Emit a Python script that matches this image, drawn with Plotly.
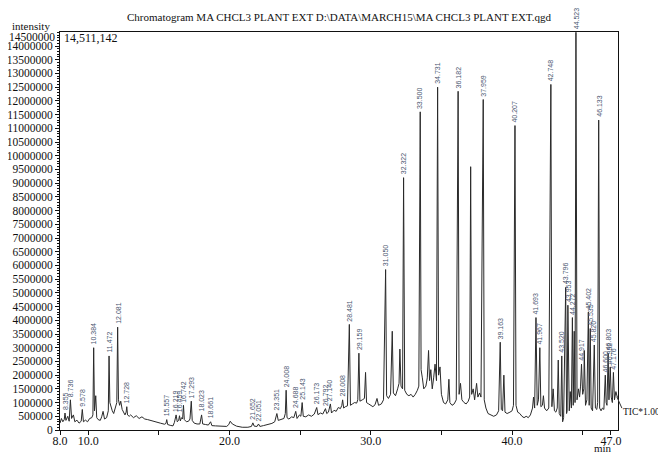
import plotly.graph_objects as go

SCALE = 1e6  # intensities below are in millions of counts
Y_MAX = 14511142

# (retention time [min], intensity [million counts])
seg_a = [(8.0, 0.25), (8.1, 0.42), (8.2, 0.3), (8.3, 0.38), (8.355, 0.62), (8.42, 0.35),
         (8.55, 0.5), (8.65, 0.32), (8.736, 1.1), (8.82, 0.42), (8.95, 0.55), (9.05, 0.3),
         (9.2, 0.36), (9.35, 0.25), (9.5, 0.32), (9.578, 0.75), (9.66, 0.3), (9.8, 0.36),
         (9.95, 0.3), (10.1, 0.42), (10.25, 0.45), (10.33, 0.55), (10.384, 3.0), (10.44, 0.7),
         (10.53, 1.25), (10.6, 0.45), (10.7, 0.38), (10.85, 0.35), (10.95, 0.48), (11.05, 0.68),
         (11.15, 0.4), (11.3, 0.45), (11.42, 0.7), (11.472, 2.7), (11.53, 1.0), (11.6, 0.85),
         (11.7, 0.7), (11.8, 0.6), (11.9, 0.78), (12.02, 1.0), (12.081, 3.75), (12.14, 1.1),
         (12.22, 0.9), (12.3, 1.05), (12.4, 0.75), (12.5, 0.65), (12.6, 0.55), (12.68, 0.65),
         (12.728, 0.85), (12.78, 0.55), (12.9, 0.5), (13.0, 0.55)]

seg_b = [(13.2, 0.45), (13.4, 0.52), (13.6, 0.42), (13.8, 0.48), (14.0, 0.4), (14.2, 0.38),
         (14.5, 0.33), (14.8, 0.3), (15.1, 0.25), (15.4, 0.21), (15.5, 0.24), (15.557, 0.38),
         (15.62, 0.2), (15.8, 0.17), (16.0, 0.15), (16.1, 0.28), (16.219, 0.55), (16.3, 0.3),
         (16.4, 0.35), (16.459, 0.52), (16.52, 0.33), (16.6, 0.45), (16.68, 0.4), (16.742, 0.9),
         (16.8, 0.38), (16.95, 0.3), (17.1, 0.32), (17.2, 0.4), (17.293, 1.05), (17.36, 0.35),
         (17.5, 0.25), (17.7, 0.22), (17.9, 0.22), (18.023, 0.55), (18.1, 0.22), (18.3, 0.2),
         (18.5, 0.18), (18.661, 0.3), (18.75, 0.16), (19.0, 0.15), (19.4, 0.13), (19.8, 0.13),
         (19.95, 0.2), (20.05, 0.32), (20.2, 0.22), (20.5, 0.14), (20.9, 0.1), (21.3, 0.1),
         (21.55, 0.13), (21.652, 0.26), (21.75, 0.14), (21.95, 0.13), (22.051, 0.22), (22.15, 0.13)]

seg_c = [(22.4, 0.16), (22.7, 0.2), (23.0, 0.24), (23.2, 0.3), (23.351, 0.6), (23.45, 0.35),
         (23.65, 0.38), (23.85, 0.42), (23.95, 0.6), (24.008, 1.45), (24.07, 0.45), (24.2, 0.4),
         (24.4, 0.48), (24.55, 0.45), (24.688, 0.68), (24.78, 0.42), (24.95, 0.55), (25.05, 0.5),
         (25.143, 1.0), (25.22, 0.5), (25.4, 0.48), (25.6, 0.55), (25.8, 0.5), (26.0, 0.58),
         (26.173, 0.82), (26.26, 0.56), (26.45, 0.62), (26.6, 0.58), (26.792, 0.78), (26.88, 0.6),
         (27.0, 0.65), (27.14, 0.95), (27.22, 0.62), (27.4, 0.72), (27.55, 0.68), (27.7, 0.82),
         (27.85, 0.78), (27.95, 0.9), (28.008, 1.1), (28.08, 0.8), (28.2, 0.85), (28.35, 0.88),
         (28.481, 3.85), (28.56, 0.9), (28.7, 0.95), (28.85, 1.0), (29.0, 0.98), (29.08, 1.1),
         (29.159, 2.8), (29.23, 1.05), (29.4, 1.1), (29.55, 1.15), (29.63, 2.1), (29.7, 1.0),
         (29.85, 0.95), (30.0, 0.9), (30.15, 0.85), (30.3, 0.92), (30.44, 1.15), (30.55, 0.9),
         (30.75, 0.95), (30.9, 1.1)]

seg_d = [(31.05, 5.85), (31.12, 1.25), (31.25, 1.15), (31.4, 1.3), (31.52, 3.6), (31.6, 1.35),
         (31.75, 1.25), (31.9, 1.5), (32.0, 1.7), (32.06, 2.95), (32.14, 1.6), (32.25, 1.5),
         (32.322, 9.2), (32.4, 1.45), (32.55, 1.3), (32.7, 1.25), (32.85, 1.3), (33.0, 1.2),
         (33.15, 1.3), (33.3, 1.45), (33.4, 1.6), (33.5, 11.6), (33.56, 2.2), (33.65, 1.9),
         (33.75, 1.5), (33.9, 1.6), (34.0, 1.9), (34.09, 2.9), (34.16, 1.8), (34.25, 2.2),
         (34.35, 1.5), (34.45, 1.9), (34.55, 2.4), (34.65, 1.8), (34.731, 12.5), (34.8, 2.0),
         (34.9, 2.3), (35.0, 1.3), (35.15, 1.0), (35.3, 0.95), (35.45, 1.1), (35.53, 1.85),
         (35.6, 1.0), (35.75, 0.9), (35.9, 0.95), (36.05, 1.1), (36.182, 12.35), (36.25, 1.3),
         (36.35, 1.7), (36.45, 1.1), (36.6, 1.0), (36.75, 0.95), (36.9, 1.05), (37.0, 1.2),
         (37.07, 9.6), (37.14, 1.3), (37.25, 1.5), (37.35, 1.1), (37.49, 1.7), (37.58, 1.2),
         (37.7, 1.35), (37.8, 1.2), (37.959, 12.05), (38.03, 1.1), (38.15, 0.8), (38.3, 0.6),
         (38.5, 0.55), (38.7, 0.5), (38.9, 0.55), (39.05, 0.7)]

seg_e = [(39.163, 3.2), (39.24, 0.75), (39.33, 0.7), (39.42, 2.0), (39.5, 0.65), (39.65, 0.6),
         (39.85, 0.65), (40.0, 0.7), (40.1, 0.9), (40.207, 11.1), (40.28, 0.9), (40.4, 0.65),
         (40.55, 0.6), (40.7, 0.5), (40.85, 0.45), (41.0, 0.5), (41.15, 0.45), (41.3, 0.55),
         (41.45, 0.8), (41.52, 1.2), (41.6, 0.8), (41.693, 4.1), (41.78, 0.9), (41.87, 1.1),
         (41.967, 3.0), (42.04, 0.85), (42.15, 0.9), (42.22, 1.25), (42.3, 0.8), (42.45, 0.7),
         (42.6, 0.8), (42.748, 12.6), (42.82, 0.85), (42.91, 1.5), (43.0, 0.7), (43.1, 0.65),
         (43.2, 0.8), (43.27, 2.55), (43.34, 0.6), (43.45, 0.5), (43.52, 2.7), (43.58, 0.3),
         (43.65, 0.45), (43.796, 5.2), (43.86, 0.6), (43.9, 0.7), (43.953, 4.55), (44.05, 0.7),
         (44.12, 1.4), (44.2, 0.8), (44.272, 4.1), (44.33, 0.9), (44.4, 3.6), (44.46, 1.0),
         (44.523, 14.5), (44.6, 1.1), (44.7, 1.5), (44.78, 1.2), (44.85, 1.6), (44.917, 2.4),
         (45.0, 1.3), (45.08, 1.5), (45.113, 2.9), (45.2, 0.9), (45.3, 1.1), (45.402, 4.3),
         (45.46, 0.9), (45.535, 3.7), (45.6, 0.8), (45.7, 0.7), (45.82, 3.1), (45.9, 0.8),
         (46.0, 0.75), (46.06, 1.0), (46.133, 11.3), (46.2, 0.8), (46.3, 0.7), (46.4, 0.8),
         (46.5, 0.75), (46.6, 2.0), (46.66, 1.0), (46.72, 0.9), (46.803, 2.8), (46.86, 1.1),
         (46.952, 2.3), (47.02, 1.2), (47.1, 1.0), (47.176, 2.1), (47.25, 1.1), (47.35, 1.4),
         (47.45, 1.2), (47.5, 1.2)]

peak_labels = ["8.355", "8.736", "9.578", "10.384", "11.472", "12.081", "12.728", "15.557",
               "16.219", "16.459", "16.742", "17.293", "18.023", "18.661", "21.652", "22.051",
               "23.351", "24.008", "24.688", "25.143", "26.173", "26.792", "27.140", "28.008",
               "28.481", "29.159", "31.050", "32.322", "33.500", "34.731", "36.182", "37.959",
               "39.163", "40.207", "41.693", "41.967", "42.748", "43.520", "43.796", "43.953",
               "44.272", "44.523", "44.917", "45.402", "45.535", "45.820", "46.133", "46.600",
               "46.803", "46.952", "47.176"]

x_tick_vals = [8, 10, 15, 20, 25, 30, 35, 40, 45, 47]
x_tick_text = ["8.0", "10.0", "", "20.0", "", "30.0", "", "40.0", "", "47.0"]
y_tick_vals = [v * 500000 for v in range(29)]   # 0 ... 14,000,000
y_top_label = "14500000"

points = seg_a + seg_b + seg_c + seg_d + seg_e
rt = [p[0] for p in points]
inten = [p[1] * SCALE for p in points]
apex = dict(points)

SERIF = "Liberation Serif"

fig = go.Figure()
fig.add_trace(go.Scatter(x=rt, y=inten, mode="lines",
                         line=dict(color="#2a2a2a", width=1), hoverinfo="skip"))

annotations = []
for lab in peak_labels:
    t = float(lab)
    annotations.append(dict(x=t, y=apex[t] * SCALE, xref="x", yref="y", text=lab,
                            textangle=-90, showarrow=False, xanchor="center",
                            yanchor="bottom", yshift=1,
                            font=dict(size=7, color="#4a5670", family="Liberation Sans")))

annotations += [
    dict(text="intensity", xref="paper", yref="paper", x=-0.09, y=1.015,
         xanchor="left", yanchor="middle", showarrow=False,
         font=dict(family=SERIF, size=11, color="#111")),
    dict(text=y_top_label, xref="paper", yref="paper", x=-0.006, y=0.988,
         xanchor="right", yanchor="middle", showarrow=False,
         font=dict(family=SERIF, size=11.5, color="#111")),
    dict(text="14,511,142", xref="paper", yref="paper", x=0.003, y=0.985,
         xanchor="left", yanchor="middle", showarrow=False,
         font=dict(family=SERIF, size=12, color="#111")),
    dict(text="min", xref="paper", yref="paper", x=0.973, y=-0.046,
         xanchor="center", yanchor="middle", showarrow=False,
         font=dict(family=SERIF, size=11, color="#111")),
    dict(text="TIC*1.00", xref="paper", yref="paper", x=1.006, y=0.045,
         xanchor="left", yanchor="middle", showarrow=False,
         font=dict(family=SERIF, size=9.5, color="#111")),
]

fig.update_layout(
    width=658, height=454,
    margin=dict(l=52, r=48, t=24, b=32),
    paper_bgcolor="white", plot_bgcolor="white",
    showlegend=False,
    title=dict(text="Chromatogram MA CHCL3 PLANT EXT D:\\DATA\\MARCH15\\MA CHCL3 PLANT EXT.qgd",
               x=0.5, xref="paper", y=1 - 9 / 454, yref="container",
               xanchor="center", yanchor="middle",
               font=dict(family=SERIF, size=11, color="#111")),
    annotations=annotations,
    shapes=[dict(type="line", xref="paper", yref="paper",
                 x0=0.998, y0=0.083, x1=1.007, y1=0.055,
                 line=dict(color="#333", width=1))],
    xaxis=dict(range=[8, 47.5], tickvals=x_tick_vals, ticktext=x_tick_text,
               ticks="outside", ticklen=4, tickcolor="#111", ticklabelstandoff=-4,
               showline=True, linecolor="#111", linewidth=1, mirror=True,
               showgrid=False, zeroline=False, automargin=False,
               tickfont=dict(family=SERIF, size=12, color="#111")),
    yaxis=dict(range=[0, Y_MAX], tickvals=y_tick_vals, tickformat="d",
               ticks="outside", ticklen=4, tickcolor="#111",
               minor=dict(dtick=100000, tick0=0, ticks="outside", ticklen=2, tickcolor="#111"),
               showline=True, linecolor="#111", linewidth=1, mirror=True,
               showgrid=False, zeroline=False, automargin=False,
               tickfont=dict(family=SERIF, size=11.5, color="#111")),
)

fig.write_html("out.html")
